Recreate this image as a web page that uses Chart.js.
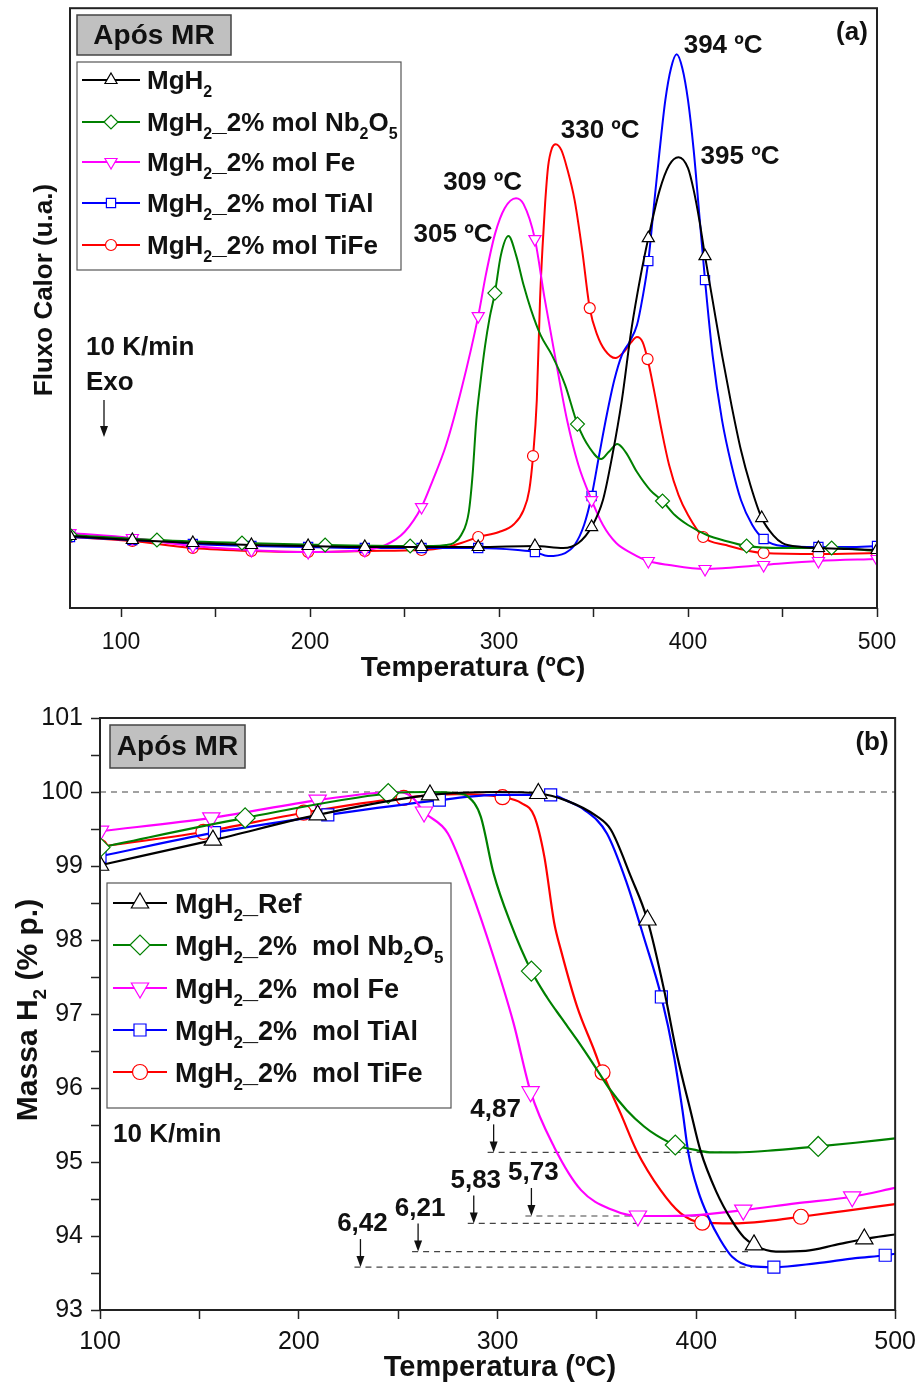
<!DOCTYPE html>
<html>
<head>
<meta charset="utf-8">
<script src="https://cdn.jsdelivr.net/npm/chart.js@4.4.1/dist/chart.umd.min.js"></script>
<style>
  html, body { margin: 0; padding: 0; background: #fff; }
  #wrap { position: relative; width: 924px; height: 1390px; }
  canvas { position: absolute; left: 0; }
  #chartA { top: 0; }
  #chartB { top: 690px; }
</style>
</head>
<body>
<div id="wrap">
  <canvas id="chartA" width="924" height="690"></canvas>
  <canvas id="chartB" width="924" height="700"></canvas>
</div>
<script>
// ---- (a) DSC: fluxo de calor (u.a.) x temperatura (ºC) ----------------------
const tMgH2 = [73, 106, 138, 169, 199, 229, 259, 289, 319, 334, 342, 349, 355, 360, 365, 370, 375, 379, 385, 390, 395, 400, 403, 406, 409, 413, 418, 423, 428, 433, 439, 445, 450, 460, 469, 485, 500];
const fMgH2 = [0.72, 0.68, 0.65, 0.63, 0.62, 0.61, 0.61, 0.61, 0.62, 0.60, 0.65, 0.81, 1.08, 1.53, 2.08, 2.78, 3.33, 3.70, 4.18, 4.43, 4.51, 4.40, 4.18, 3.88, 3.52, 3.08, 2.53, 2.03, 1.58, 1.23, 0.90, 0.73, 0.65, 0.61, 0.60, 0.59, 0.58];
const mkMgH2 = [73, 106, 138, 169, 199, 229, 259, 289, 319, 349, 379, 409, 439, 469, 500];

const tNb = [73, 119, 164, 208, 253, 265, 272, 276, 280, 284, 286, 288, 290, 292.6, 295, 297.8, 301, 305, 309, 313, 317, 322, 328, 335, 341.5, 348, 354, 358, 362.6, 367, 373, 380, 386.5, 393, 400, 410, 420, 431, 450, 476, 500];
const fNb = [0.73, 0.68, 0.65, 0.63, 0.62, 0.62, 0.63, 0.65, 0.73, 0.96, 1.33, 1.88, 2.23, 2.62, 2.90, 3.15, 3.53, 3.72, 3.53, 3.23, 2.98, 2.73, 2.53, 2.23, 1.84, 1.60, 1.49, 1.56, 1.64, 1.56, 1.36, 1.18, 1.07, 0.93, 0.83, 0.73, 0.67, 0.62, 0.60, 0.60, 0.57];
const mkNb = [73, 119, 164, 208, 253, 297.8, 341.5, 386.5, 431, 476];

const tFe = [73, 106, 138, 169, 199, 229, 240, 250, 259, 265, 272, 280, 289, 293, 298, 303, 309, 313, 319, 324, 330, 336, 342, 349, 355, 362, 370, 379, 390, 409, 420, 440, 469, 500];
const fFe = [0.75, 0.70, 0.62, 0.58, 0.56, 0.58, 0.63, 0.76, 1.01, 1.28, 1.63, 2.18, 2.92, 3.33, 3.75, 4.00, 4.10, 4.04, 3.69, 3.11, 2.48, 1.88, 1.43, 1.08, 0.83, 0.65, 0.55, 0.47, 0.43, 0.39, 0.40, 0.43, 0.47, 0.49];
const mkFe = [73, 106, 138, 169, 199, 229, 259, 289, 319, 349, 379, 409, 440, 469, 500];

const tTiAl = [73, 106, 138, 169, 199, 229, 259, 289, 310, 319, 326, 335, 340, 345, 349, 353, 357, 361, 365, 369, 373, 376, 379, 382, 385, 388, 391, 394, 397, 400, 403, 406, 409, 413, 418, 423, 428, 434, 440, 450, 469, 485, 500];
const fTiAl = [0.71, 0.68, 0.64, 0.62, 0.61, 0.60, 0.60, 0.60, 0.58, 0.56, 0.52, 0.55, 0.63, 0.83, 1.12, 1.53, 1.93, 2.28, 2.53, 2.66, 2.83, 3.11, 3.47, 4.03, 4.58, 5.08, 5.40, 5.54, 5.40, 5.08, 4.58, 3.93, 3.28, 2.53, 1.88, 1.43, 1.08, 0.83, 0.69, 0.62, 0.61, 0.61, 0.62];
const mkTiAl = [73, 106, 138, 169, 199, 229, 259, 289, 319, 349, 379, 409, 440, 469, 500];

const tTiFe = [73, 106, 138, 169, 199, 229, 259, 270, 280, 289, 300, 308, 313, 316, 318, 320, 321.7, 323, 324.4, 326, 328, 330, 333, 336, 340, 344, 348, 352, 356, 361.6, 366, 370, 373, 376, 378.6, 382, 386, 390, 395, 400, 408, 420, 440, 469, 500];
const fTiFe = [0.71, 0.67, 0.60, 0.57, 0.56, 0.57, 0.58, 0.60, 0.65, 0.71, 0.76, 0.84, 0.98, 1.18, 1.52, 2.08, 3.08, 3.60, 4.05, 4.42, 4.60, 4.64, 4.58, 4.40, 4.08, 3.58, 3.00, 2.73, 2.58, 2.50, 2.56, 2.66, 2.71, 2.66, 2.49, 2.18, 1.78, 1.43, 1.13, 0.93, 0.71, 0.63, 0.55, 0.54, 0.55];
const mkTiFe = [73, 106, 138, 169, 199, 229, 259, 289, 318, 348, 378.6, 408, 440, 469, 500];

const xTicksA = [100, 150, 200, 250, 300, 350, 400, 450, 500];

// ---- (b) TG: massa H2 (% p.) x temperatura (ºC) ------------------------------
const tRef = [100, 156.8, 209.5, 266, 300, 320.5, 335, 350, 357, 367, 375.4, 383.8, 390.5, 397, 402, 410, 418, 424, 429, 435, 440, 455, 470, 484.5, 500];
const mRef = [99.01, 99.35, 99.69, 99.96, 100.0, 99.98, 99.88, 99.67, 99.49, 98.86, 98.27, 97.32, 96.42, 95.70, 95.16, 94.60, 94.20, 93.98, 93.88, 93.81, 93.79, 93.80, 93.88, 93.96, 94.02];
const mkRef = [100, 156.8, 209.5, 266, 320.5, 375.4, 429, 484.5];

const tNbB = [100, 173, 245, 265, 280, 285, 291.5, 298, 306.5, 317, 325, 332, 340, 349, 356, 365, 373.7, 380, 389.4, 400, 408, 420, 440, 461.3, 480, 500];
const mNbB = [99.25, 99.65, 99.98, 100.0, 99.98, 99.94, 99.67, 98.90, 98.23, 97.58, 97.22, 96.95, 96.65, 96.29, 96.00, 95.70, 95.48, 95.36, 95.23, 95.16, 95.13, 95.13, 95.16, 95.21, 95.26, 95.32];
const mkNbB = [100, 173, 245, 317, 389.4, 461.3];

const tFeB = [100, 156, 209.5, 240, 250, 257, 263, 275, 286.5, 298, 308, 316.6, 328.5, 342, 358, 370.6, 385, 398, 423.6, 450, 478.4, 500];
const mFeB = [99.47, 99.65, 99.89, 99.99, 100.0, 99.93, 99.73, 99.44, 98.68, 97.77, 96.88, 95.95, 95.20, 94.62, 94.35, 94.27, 94.27, 94.28, 94.35, 94.44, 94.53, 94.65];
const mkFeB = [100, 156, 209.5, 263, 316.6, 370.6, 423.6, 478.4];

const tTiAlB = [100, 157.6, 214.6, 270.7, 300, 326.7, 335, 343.6, 355, 365, 374, 382.4, 388.8, 393, 396, 401, 406, 412, 418, 428, 439, 460, 480, 495, 500];
const mTiAlB = [99.13, 99.45, 99.69, 99.89, 99.96, 99.96, 99.88, 99.76, 99.44, 98.77, 98.00, 97.23, 96.42, 95.70, 95.12, 94.60, 94.26, 93.95, 93.72, 93.59, 93.58, 93.63, 93.70, 93.74, 93.76];
const mkTiAlB = [100, 157.6, 214.6, 270.7, 326.7, 382.4, 439, 495];

const tTiFeB = [100, 152, 202.5, 252.8, 280, 302.5, 312, 318.5, 323.5, 328.5, 332, 340, 348.6, 352.8, 362, 370, 382, 392, 403, 418, 435, 452.6, 475, 500];
const mTiFeB = [99.26, 99.46, 99.72, 99.92, 99.97, 99.93, 99.85, 99.67, 99.13, 98.23, 97.85, 97.10, 96.51, 96.21, 95.65, 95.15, 94.62, 94.31, 94.18, 94.17, 94.20, 94.26, 94.34, 94.43];
const mkTiFeB = [100, 152, 202.5, 252.8, 302.5, 352.8, 403, 452.6];

const xTicksB = [100, 150, 200, 250, 300, 350, 400, 450, 500];
const yTicksB = [93, 93.5, 94, 94.5, 95, 95.5, 96, 96.5, 97, 97.5, 98, 98.5, 99, 99.5, 100, 100.5, 101];

// perda de massa (% p.) marcada em cada curva
const lossValues = [4.87, 5.73, 5.83, 6.21, 6.42];
const lossFromT = [295, 314, 285, 257, 228];
const lossToT = [413, 400, 403, 426, 428];

// ---- Estilo -----------------------------------------------------------------
const FONT = '"Liberation Sans", Arial, sans-serif';
const C_BLACK = '#000000', C_GREEN = '#008000', C_MAG = '#ff00ff', C_BLUE = '#0000ff', C_RED = '#ff0000';

const namesA = [
  [['MgH', 0], ['2', 1]],
  [['MgH', 0], ['2', 1], ['_2% mol Nb', 0], ['2', 1], ['O', 0], ['5', 1]],
  [['MgH', 0], ['2', 1], ['_2% mol Fe', 0]],
  [['MgH', 0], ['2', 1], ['_2% mol TiAl', 0]],
  [['MgH', 0], ['2', 1], ['_2% mol TiFe', 0]],
];
const namesB = [
  [['MgH', 0], ['2', 1], ['_Ref', 0]],
  [['MgH', 0], ['2', 1], ['_2%  mol Nb', 0], ['2', 1], ['O', 0], ['5', 1]],
  [['MgH', 0], ['2', 1], ['_2%  mol Fe', 0]],
  [['MgH', 0], ['2', 1], ['_2%  mol TiAl', 0]],
  [['MgH', 0], ['2', 1], ['_2%  mol TiFe', 0]],
];

const seriesA = [
  { t: tMgH2, v: fMgH2, mk: mkMgH2, color: C_BLACK, style: 'triangle', rot: 0, r: 7 },
  { t: tNb, v: fNb, mk: mkNb, color: C_GREEN, style: 'rectRot', rot: 0, r: 7 },
  { t: tFe, v: fFe, mk: mkFe, color: C_MAG, style: 'triangle', rot: 180, r: 7 },
  { t: tTiAl, v: fTiAl, mk: mkTiAl, color: C_BLUE, style: 'rect', rot: 0, r: 6.5 },
  { t: tTiFe, v: fTiFe, mk: mkTiFe, color: C_RED, style: 'circle', rot: 0, r: 5.5 },
];
const seriesB = [
  { t: tRef, v: mRef, mk: mkRef, color: C_BLACK, style: 'triangle', rot: 0, r: 10 },
  { t: tNbB, v: mNbB, mk: mkNbB, color: C_GREEN, style: 'rectRot', rot: 0, r: 10 },
  { t: tFeB, v: mFeB, mk: mkFeB, color: C_MAG, style: 'triangle', rot: 180, r: 10 },
  { t: tTiAlB, v: mTiAlB, mk: mkTiAlB, color: C_BLUE, style: 'rect', rot: 0, r: 8.5 },
  { t: tTiFeB, v: mTiFeB, mk: mkTiFeB, color: C_RED, style: 'circle', rot: 0, r: 7.5 },
];

// rótulos de pico: índice da série + deslocamento do texto em px
const peakLabels = [
  { s: 3, dx: 7, dy: -8, align: 'left' },
  { s: 0, dx: 22, dy: 0, align: 'left' },
  { s: 4, dx: 5, dy: -13, align: 'left' },
  { s: 2, dx: 6, dy: -15, align: 'right' },
  { s: 1, dx: -16, dy: -1, align: 'right' },
];

function toDatasets(series, lineW) {
  return series.map((s) => ({
    data: s.t.map((t, i) => ({ x: t, y: s.v[i] })),
    borderColor: s.color,
    borderWidth: lineW,
    backgroundColor: '#ffffff',
    pointBackgroundColor: '#ffffff',
    pointBorderColor: s.color,
    pointBorderWidth: 1.2,
    pointStyle: s.style,
    pointRotation: s.rot,
    pointRadius: (c) => (s.mk.includes(s.t[c.dataIndex]) ? s.r : 0),
    cubicInterpolationMode: 'monotone',
    fill: false,
  }));
}

// ---- Helpers de desenho ------------------------------------------------------
function drawRich(ctx, parts, x, y, size, align) {
  // y = linha de base; subscritos menores e rebaixados
  const widths = parts.map(([t, sub]) => {
    ctx.font = `bold ${sub ? Math.round(size * 0.62) : size}px ${FONT}`;
    return ctx.measureText(t).width;
  });
  let cx = align === 'center' ? x - widths.reduce((a, b) => a + b, 0) / 2 : x;
  ctx.textAlign = 'left';
  ctx.textBaseline = 'alphabetic';
  parts.forEach(([t, sub], i) => {
    ctx.font = `bold ${sub ? Math.round(size * 0.62) : size}px ${FONT}`;
    ctx.fillText(t, cx, sub ? y + size * 0.3 : y);
    cx += widths[i];
  });
}

function drawMark(ctx, s, x, y) {
  ctx.save();
  ctx.fillStyle = '#ffffff';
  ctx.strokeStyle = s.color;
  ctx.lineWidth = 1.2;
  Chart.helpers.drawPoint(ctx, { pointStyle: s.style, radius: s.r, rotation: s.rot, borderWidth: 1.2 }, x, y);
  ctx.restore();
}

function drawText(ctx, txt, x, y, size, align, bold) {
  ctx.font = `${bold ? 'bold ' : ''}${size}px ${FONT}`;
  ctx.textAlign = align;
  ctx.textBaseline = 'middle';
  ctx.fillStyle = '#111';
  ctx.fillText(txt, x, y);
}

function drawArrow(ctx, x, y0, y1) {
  ctx.save();
  ctx.strokeStyle = '#111';
  ctx.fillStyle = '#111';
  ctx.lineWidth = 1.3;
  ctx.beginPath();
  ctx.moveTo(x, y0);
  ctx.lineTo(x, y1 - 8);
  ctx.stroke();
  ctx.beginPath();
  ctx.moveTo(x - 4, y1 - 11);
  ctx.lineTo(x + 4, y1 - 11);
  ctx.lineTo(x, y1);
  ctx.closePath();
  ctx.fill();
  ctx.restore();
}

function drawTagBox(ctx, x, y, w, h, txt) {
  ctx.save();
  ctx.fillStyle = '#c0c0c0';
  ctx.fillRect(x, y, w, h);
  ctx.strokeStyle = '#444';
  ctx.lineWidth = 1.5;
  ctx.strokeRect(x, y, w, h);
  ctx.restore();
  drawText(ctx, txt, x + w / 2, y + h / 2 + 1, 28, 'center', true);
}

function drawLegend(ctx, series, names, box, rows, lineX0, lineX1, textX, size) {
  ctx.save();
  ctx.fillStyle = '#fff';
  ctx.fillRect(box.x, box.y, box.w, box.h);
  ctx.strokeStyle = '#555';
  ctx.lineWidth = 1.2;
  ctx.strokeRect(box.x, box.y, box.w, box.h);
  series.forEach((s, i) => {
    const y = rows[i];
    ctx.strokeStyle = s.color;
    ctx.lineWidth = 2;
    ctx.beginPath();
    ctx.moveTo(lineX0, y);
    ctx.lineTo(lineX1, y);
    ctx.stroke();
    drawMark(ctx, s, (lineX0 + lineX1) / 2, y);
    ctx.fillStyle = '#111';
    drawRich(ctx, names[i], textX, y + size * 0.36, size);
  });
  ctx.restore();
}

function drawFrame(chart) {
  const { ctx, chartArea: a } = chart;
  ctx.save();
  ctx.strokeStyle = '#222';
  ctx.lineWidth = 2;
  ctx.strokeRect(a.left, a.top, a.right - a.left, a.bottom - a.top);
  ctx.restore();
}

// ---- Plugins ----------------------------------------------------------------
const decorA = {
  id: 'decorA',
  afterDraw(chart) {
    const { ctx, scales } = chart;
    drawFrame(chart);

    // temperaturas de pico
    peakLabels.forEach((p) => {
      const s = seriesA[p.s];
      let k = 0;
      s.v.forEach((v, i) => { if (v > s.v[k]) k = i; });
      const px = scales.x.getPixelForValue(s.t[k]);
      const py = scales.y.getPixelForValue(s.v[k]);
      drawText(ctx, `${Math.round(s.t[k])} ºC`, px + p.dx, py + p.dy, 26, p.align, true);
    });

    drawTagBox(ctx, 77, 15, 154, 40, 'Após MR');
    drawLegend(ctx, seriesA, namesA, { x: 77, y: 62, w: 324, h: 208 },
      [80, 122, 162, 203, 245], 82, 140, 147, 26);

    drawText(ctx, '(a)', 852, 33, 26, 'center', true);
    drawText(ctx, '10 K/min', 86, 348, 26, 'left', true);
    drawText(ctx, 'Exo', 86, 383, 26, 'left', true);
    drawArrow(ctx, 104, 400, 437);

    // títulos dos eixos
    drawText(ctx, 'Temperatura (ºC)', 473, 668, 28, 'center', true);
    ctx.save();
    ctx.translate(45, 290);
    ctx.rotate(-Math.PI / 2);
    drawText(ctx, 'Fluxo Calor (u.a.)', 0, 0, 26, 'center', true);
    ctx.restore();
  },
};

const decorB = {
  id: 'decorB',
  beforeDatasetsDraw(chart) {
    const { ctx, scales: { x, y } } = chart;
    ctx.save();
    ctx.strokeStyle = '#444';
    ctx.lineWidth = 1.2;
    ctx.setLineDash([6, 5]);
    ctx.beginPath();
    ctx.moveTo(x.getPixelForValue(100), y.getPixelForValue(100));
    ctx.lineTo(x.getPixelForValue(500), y.getPixelForValue(100));
    lossValues.forEach((v, i) => {
      const ly = y.getPixelForValue(100 - v);
      ctx.moveTo(x.getPixelForValue(lossFromT[i]), ly);
      ctx.lineTo(x.getPixelForValue(lossToT[i]), ly);
    });
    ctx.stroke();
    ctx.restore();
  },
  afterDraw(chart) {
    const { ctx, scales: { x, y } } = chart;
    drawFrame(chart);

    lossValues.forEach((v, i) => {
      const ly = y.getPixelForValue(100 - v);
      const ax = x.getPixelForValue(lossFromT[i]) + 6;
      drawArrow(ctx, ax, ly - 28, ly);
      drawText(ctx, v.toFixed(2).replace('.', ','), ax + 2, ly - 43, 26, 'center', true);
    });

    drawTagBox(ctx, 110, 35, 135, 43, 'Após MR');
    drawLegend(ctx, seriesB, namesB, { x: 107, y: 193, w: 344, h: 225 },
      [213, 255, 298, 340, 382], 113, 167, 175, 27);

    drawText(ctx, '(b)', 872, 53, 26, 'center', true);
    drawText(ctx, '10 K/min', 113, 445, 26, 'left', true);

    drawText(ctx, 'Temperatura (ºC)', 500, 678, 29, 'center', true);
    ctx.save();
    ctx.translate(27, 320);
    ctx.rotate(-Math.PI / 2);
    ctx.fillStyle = '#111';
    drawRich(ctx, [['Massa H', 0], ['2', 1], [' (% p.)', 0]], 0, 10, 30, 'center');
    ctx.restore();
  },
};

// ---- Gráficos -----------------------------------------------------------------
Chart.defaults.font.family = FONT;
Chart.defaults.animation = false;

const gridTicks = { display: true, drawOnChartArea: false, tickLength: 9, tickColor: '#222', tickWidth: 1.5 };

new Chart(document.getElementById('chartA'), {
  type: 'line',
  data: { datasets: toDatasets(seriesA, 2) },
  options: {
    responsive: false,
    layout: { padding: { left: 70, right: 47, top: 8, bottom: 0 } },
    plugins: { legend: { display: false }, tooltip: { enabled: false } },
    scales: {
      x: {
        type: 'linear', min: 73, max: 500,
        afterBuildTicks: (s) => { s.ticks = xTicksA.map((v) => ({ value: v })); },
        afterFit: (s) => { s.height = 82; },
        ticks: { autoSkip: false, maxRotation: 0, padding: 12, color: '#111', font: { size: 23 },
          callback: (v) => (v % 100 === 0 ? String(v) : '') },
        grid: gridTicks,
        border: { display: false },
      },
      y: { display: false, min: 0, max: 6 },
    },
  },
  plugins: [decorA],
});

new Chart(document.getElementById('chartB'), {
  type: 'line',
  data: { datasets: toDatasets(seriesB, 2.2) },
  options: {
    responsive: false,
    layout: { padding: { left: 0, right: 27, top: 28, bottom: 0 } },
    plugins: { legend: { display: false }, tooltip: { enabled: false } },
    scales: {
      x: {
        type: 'linear', min: 100, max: 500,
        afterBuildTicks: (s) => { s.ticks = xTicksB.map((v) => ({ value: v })); },
        afterFit: (s) => { s.height = 80; },
        ticks: { autoSkip: false, maxRotation: 0, padding: 8, color: '#111', font: { size: 25 },
          callback: (v) => (v % 100 === 0 ? String(v) : '') },
        grid: gridTicks,
        border: { display: false },
      },
      y: {
        type: 'linear', min: 93, max: 101,
        afterBuildTicks: (s) => { s.ticks = yTicksB.map((v) => ({ value: v })); },
        afterFit: (s) => { s.width = 100; },
        ticks: { autoSkip: false, padding: 8, color: '#111', font: { size: 25 },
          callback: (v) => (Number.isInteger(v) ? String(v) : '') },
        grid: gridTicks,
        border: { display: false },
      },
    },
  },
  plugins: [decorB],
});
</script>
</body>
</html>
